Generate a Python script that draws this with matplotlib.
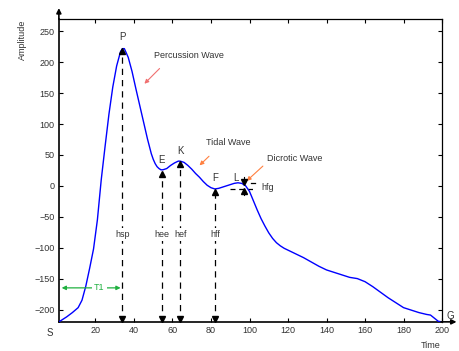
import matplotlib
matplotlib.use("Agg")
import matplotlib.pyplot as plt

plt.rcParams["font.family"] = ["Liberation Sans", "DejaVu Sans"]
plt.rcParams["font.size"] = 6.5

# pulse wave
t = [1, 3, 5, 8, 11, 13, 15, 17, 19, 21, 23, 25, 27, 29, 31, 33, 34, 35, 37, 39,
     41, 43, 45, 47, 49, 50, 51, 52, 53, 54, 55, 56, 57, 59, 61, 63, 64, 66, 68, 70,
     72, 74, 76, 78, 80, 82, 84, 86, 88, 90, 92, 94, 96, 98, 100, 102, 104, 106, 108,
     110, 112, 114, 116, 118, 120, 124, 128, 132, 136, 140, 144, 148, 152, 156, 160,
     164, 168, 172, 176, 180, 184, 188, 192, 194, 196, 198, 200]
amp = [-220, -216, -212, -205, -197, -185, -162, -133, -102, -55, 10, 64, 116, 160,
       194, 217, 222, 222, 208, 185, 157, 130, 103, 76, 52, 43, 36, 31, 28, 26, 26, 27,
       28, 33, 37, 40, 40, 38, 33, 27, 20, 14, 7, 1, -3, -5, -4, -2, 0, 2, 4, 5, 4, 0,
       -9, -24, -39, -53, -65, -76, -85, -92, -97, -101, -104, -110, -116, -123, -130,
       -136, -140, -144, -148, -150, -155, -163, -172, -181, -189, -197, -201, -205,
       -208, -209, -214, -219, -220]

# feature points: name, x, y on curve, height label
points = ["P", "E", "K", "F"]
px = [34, 54.5, 64, 82]
py = [223, 25, 40, -5]
hlabels = ["hsp", "hee", "hef", "hff"]

fig = plt.figure(figsize=(4.6, 3.51), dpi=100)
ax = fig.add_axes([0.128, 0.083, 0.833, 0.863])
ymin, ymax = -220, 270
ax.set_xlim(1, 200)
ax.set_ylim(ymin, ymax)

ax.plot(t, amp, color="#0000ff", lw=1.0, zorder=3)

for name, x, y, h in zip(points, px, py, hlabels):
    ax.plot([x, x], [ymin, y - 8], color="black", lw=0.9, ls=(0, (5, 4)), zorder=2)
    ax.plot(x, y - 5, marker="^", color="black", ms=4, zorder=4)
    ax.plot(x, ymin + 5, marker="v", color="black", ms=4, zorder=4, clip_on=False)
    ax.text(x, y + 17, name, ha="center", va="center", fontsize=7, color="#333333")
    ax.text(x, -78, h, ha="center", va="center", color="#333333",
            bbox=dict(facecolor="white", edgecolor="none", pad=1.5), zorder=5)

# L point and hfg
ax.text(93, 13, "L", ha="center", va="center", fontsize=7, color="#333333")
ax.plot([90, 102], [-5, -5], color="black", lw=0.9, ls=(0, (4, 3)), zorder=2)
ax.plot([101, 103], [4, 4], color="black", lw=0.9, zorder=2)
ax.plot([97, 97], [6, 14], color="black", lw=0.8, zorder=4)
ax.plot(97, 7, marker="v", color="black", ms=4, zorder=4)
ax.plot([97, 97], [-8, -14], color="black", lw=0.8, zorder=4)
ax.plot(97, -9, marker="^", color="black", ms=4, zorder=4)
ax.text(106, -2, "hfg", ha="left", va="center", color="#333333")

# wave annotations
ax.annotate("", xy=(44.4, 162), xytext=(54.3, 193),
            arrowprops=dict(arrowstyle="-|>", color="#f07070", lw=0.8, mutation_scale=6))
ax.text(50.3, 211, "Percussion Wave", ha="left", va="center", color="#333333")
ax.annotate("", xy=(73, 30), xytext=(80, 51),
            arrowprops=dict(arrowstyle="-|>", color="#ff8040", lw=0.8, mutation_scale=6))
ax.text(77.5, 70, "Tidal Wave", ha="left", va="center", color="#333333")
ax.annotate("", xy=(97.5, 5), xytext=(108, 35),
            arrowprops=dict(arrowstyle="-|>", color="#ff8040", lw=0.8, mutation_scale=6))
ax.text(109, 44, "Dicrotic Wave", ha="left", va="center", color="#333333")

# T1
ax.annotate("", xy=(1, -165), xytext=(34.5, -165),
            arrowprops=dict(arrowstyle="<|-|>", color="#20b040", lw=0.9, mutation_scale=6))
ax.text(22, -165, "T1", ha="center", va="center", color="#20b040",
        bbox=dict(facecolor="white", edgecolor="none", pad=1.5), zorder=5)

ax.set_xticks([20, 40, 60, 80, 100, 120, 140, 160, 180, 200])
ax.set_yticks([-200, -150, -100, -50, 0, 50, 100, 150, 200, 250])
ax.tick_params(direction="in", top=True, right=True, length=3, width=0.8,
               labelsize=6.5, labelcolor="#333333", pad=3)
for s in ax.spines.values():
    s.set_linewidth(0.9)
ax.spines["left"].set_linewidth(1.2)
ax.spines["bottom"].set_linewidth(1.2)

# axis arrows
ax.annotate("", xy=(0, 1.045), xytext=(0, 0.99), xycoords="axes fraction",
            arrowprops=dict(arrowstyle="-|>", color="black", lw=1.2, mutation_scale=7))
ax.annotate("", xy=(1.045, 0), xytext=(0.99, 0), xycoords="axes fraction",
            arrowprops=dict(arrowstyle="-|>", color="black", lw=1.2, mutation_scale=7))

fig.text(22 / 460, 1 - 40 / 351, "Amplitude", rotation=90, ha="center", va="center",
         color="#333333", fontsize=6.5)
fig.text(431 / 460, 1 - 346 / 351, "Time", ha="center", va="center", color="#333333")
fig.text(50 / 460, 1 - 333 / 351, "S", ha="center", va="center", color="#333333", fontsize=7)
fig.text(450 / 460, 1 - 316 / 351, "G", ha="center", va="center", color="#333333", fontsize=7)

fig.savefig("out.png", dpi=100)
